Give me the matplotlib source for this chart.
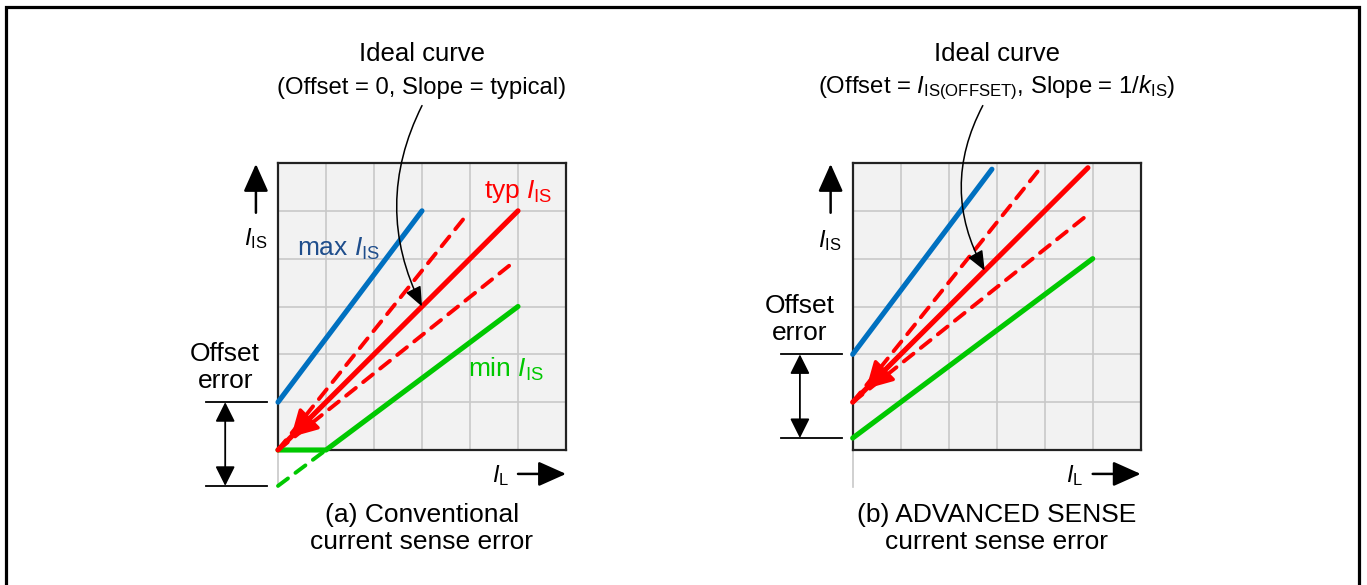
import matplotlib
matplotlib.use("Agg")
import matplotlib.pyplot as plt
from matplotlib.patches import Rectangle

plt.rcParams['font.family'] = ['Liberation Sans', 'DejaVu Sans']
plt.rcParams['mathtext.fontset'] = 'custom'
plt.rcParams['mathtext.rm'] = 'Liberation Sans'
plt.rcParams['mathtext.it'] = 'Liberation Sans:italic'
plt.rcParams['mathtext.bf'] = 'Liberation Sans:bold'

# ---------------- data ----------------
# (a) conventional
a_max_x, a_max_y = [0, 3], [1, 5]
a_typ_x, a_typ_y = [0, 5], [0, 5]
a_hi_x, a_hi_y = [0, 3.92], [0, 4.9]
a_lo_x, a_lo_y = [0, 4.9], [0, 3.92]
a_min_x, a_min_y = [0, 1, 5], [0, 0, 3]
a_minext_x, a_minext_y = [0, 1], [-0.75, 0]
a_offset = [1, -0.75]
# (b) advanced sense
b_max_x, b_max_y = [0, 2.9], [2, 5.87]
b_typ_x, b_typ_y = [0, 4.9], [1, 5.9]
b_hi_x, b_hi_y = [0, 3.9], [1, 5.88]
b_lo_x, b_lo_y = [0, 4.9], [1, 4.92]
b_min_x, b_min_y = [0, 5], [0.25, 4]
b_offset = [2, 0.25]

titles = [("Ideal curve", "(Offset = 0, Slope = typical)"),
          ("Ideal curve", r"(Offset = $I_{\mathrm{IS(OFFSET)}}$, Slope = 1/$k_{\mathrm{IS}}$)")]
captions = ["(a) Conventional\ncurrent sense error",
            "(b) ADVANCED SENSE\ncurrent sense error"]

BLUE = '#0070C0'
RED = '#FF0000'
GREEN = '#00C800'
DBLUE = '#1F4E8C'
FS = 17
FS_BIG = 19

W, H = 1367, 585
fig = plt.figure(figsize=(W / 100, H / 100), dpi=100)
fig.patches.append(Rectangle((6 / W, -0.05), (1359 - 6) / W, 1.05 - 7 / H,
                             transform=fig.transFigure, fill=False,
                             edgecolor='black', lw=2.3))

def make_ax(left_px):
    ax = fig.add_axes([left_px / W, (H - 450) / H, 288 / W, 287 / H])
    ax.set_xlim(0, 6)
    ax.set_ylim(0, 6)
    ax.set_facecolor('#f2f2f2')
    ax.set_xticks(range(1, 6))
    ax.set_yticks(range(1, 6))
    ax.tick_params(length=0, labelbottom=False, labelleft=False)
    ax.grid(True, color='#c8c8c8', lw=1.2)
    for s in ax.spines.values():
        s.set_linewidth(1.6)
        s.set_color('#222222')
    ax.plot([0, 0], [0, -0.78], color='#c8c8c8', lw=1.2, clip_on=False, zorder=1)
    return ax

def solid(ax, x, y, c, z=5):
    ax.plot(x, y, color=c, lw=3.7, solid_capstyle='round', clip_on=False, zorder=z)

def dashed(ax, x, y, c, z=4):
    ax.plot(x, y, color=c, lw=2.8, ls=(0, (3.2, 2.4)), dash_capstyle='round',
            clip_on=False, zorder=z)

def common(ax, offs, title, caption, yl_y, off_text_y):
    # title
    ax.text(3, 8.27, title[0], ha='center', va='center', fontsize=18.5)
    ax.text(3, 7.57, title[1], ha='center', va='center', fontsize=17.2)
    # caption
    ax.text(3, -1.64, caption, ha='center', va='center', fontsize=FS_BIG, linespacing=1.2)
    # y axis arrow / label
    ax.annotate('', xy=(-0.46, 5.98), xytext=(-0.46, 4.96), annotation_clip=False,
                arrowprops=dict(arrowstyle='-|>,head_length=0.85,head_width=0.38',
                                color='black', lw=1.8, mutation_scale=20,
                                shrinkA=0, shrinkB=0))
    ax.text(-0.47, yl_y, r'$I_{\mathrm{IS}}$', ha='center', va='center', fontsize=FS)
    # x axis arrow / label
    ax.annotate('', xy=(6.0, -0.5), xytext=(5.0, -0.5), annotation_clip=False,
                arrowprops=dict(arrowstyle='-|>,head_length=0.85,head_width=0.38',
                                color='black', lw=1.8, mutation_scale=20,
                                shrinkA=0, shrinkB=0))
    ax.text(4.63, -0.53, r'$I_{\mathrm{L}}$', ha='center', va='center', fontsize=FS)
    # offset bracket
    for yv in offs:
        ax.plot([-1.5, -0.23], [yv, yv], color='black', lw=1.3, clip_on=False)
    ax.annotate('', xy=(-1.1, offs[0]), xytext=(-1.1, offs[1]), annotation_clip=False,
                arrowprops=dict(arrowstyle='<|-|>,head_length=0.6,head_width=0.3',
                                color='black', lw=1.3, mutation_scale=20,
                                shrinkA=0, shrinkB=0))
    ax.text(-1.1, off_text_y, "Offset\nerror", ha='center', va='center',
            fontsize=FS_BIG, linespacing=1.15)

# ---------- panel (a) ----------
axa = make_ax(278)
dashed(axa, a_hi_x, a_hi_y, RED)
dashed(axa, a_lo_x, a_lo_y, RED)
dashed(axa, a_minext_x, a_minext_y, GREEN)
solid(axa, a_max_x, a_max_y, BLUE)
solid(axa, a_min_x, a_min_y, GREEN)
solid(axa, a_typ_x, a_typ_y, RED, z=6)
axa.annotate('', xy=(0.27, 0.27), xytext=(0.8, 0.8), annotation_clip=False,
             arrowprops=dict(arrowstyle='-|>,head_length=0.8,head_width=0.45',
                             color=RED, lw=2.5, mutation_scale=20,
                             shrinkA=0, shrinkB=0), zorder=7)
axa.text(0.4, 4.2, r'max $I_{\mathrm{IS}}$', color=DBLUE, fontsize=FS_BIG,
         ha='left', va='center', zorder=8)
axa.text(4.3, 5.4, r'typ $I_{\mathrm{IS}}$', color=RED, fontsize=FS_BIG,
         ha='left', va='center', zorder=8)
axa.text(3.95, 1.68, r'min $I_{\mathrm{IS}}$', color=GREEN, fontsize=FS_BIG,
         ha='left', va='center', zorder=8)
axa.annotate('', xy=(3.0, 3.0), xytext=(3.0, 7.2), annotation_clip=False,
             arrowprops=dict(arrowstyle='-|>,head_length=0.6,head_width=0.25',
                             connectionstyle='arc3,rad=0.25', color='black',
                             lw=1.1, mutation_scale=20, shrinkA=0, shrinkB=0),
             zorder=9)
common(axa, a_offset, titles[0], captions[0], 4.42, 1.72)

# ---------- panel (b) ----------
axb = make_ax(852.7)
dashed(axb, b_hi_x, b_hi_y, RED)
dashed(axb, b_lo_x, b_lo_y, RED)
solid(axb, b_max_x, b_max_y, BLUE)
solid(axb, b_min_x, b_min_y, GREEN)
solid(axb, b_typ_x, b_typ_y, RED, z=6)
axb.annotate('', xy=(0.28, 1.28), xytext=(0.8, 1.8), annotation_clip=False,
             arrowprops=dict(arrowstyle='-|>,head_length=0.8,head_width=0.45',
                             color=RED, lw=2.5, mutation_scale=20,
                             shrinkA=0, shrinkB=0), zorder=7)
axb.annotate('', xy=(2.75, 3.75), xytext=(2.71, 7.2), annotation_clip=False,
             arrowprops=dict(arrowstyle='-|>,head_length=0.6,head_width=0.25',
                             connectionstyle='arc3,rad=0.27', color='black',
                             lw=1.1, mutation_scale=20, shrinkA=0, shrinkB=0),
             zorder=9)
common(axb, b_offset, titles[1], captions[1], 4.37, 2.73)

fig.savefig('out.png', dpi=100)
